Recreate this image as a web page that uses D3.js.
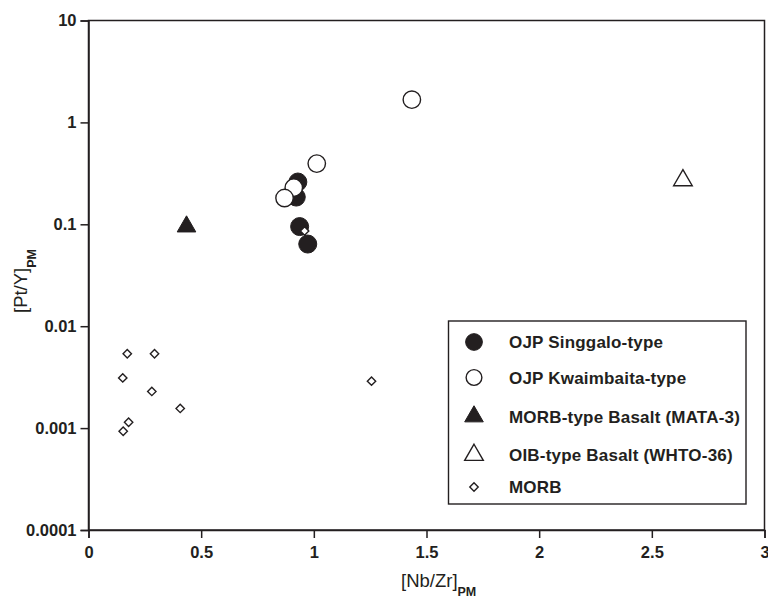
<!DOCTYPE html>
<html><head><meta charset="utf-8">
<script src="https://cdn.jsdelivr.net/npm/d3@7"></script>
<style>body{margin:0;background:#fff}</style>
</head><body>
<svg id="chart" width="768" height="609"></svg>
<script>
// ---- data ----
const singgaloX = [0.929, 0.922, 0.937, 0.973];
const singgaloY = [0.26, 0.185, 0.095, 0.064];
const kwaimbaitaX = [1.013, 0.911, 0.870, 1.435];
const kwaimbaitaY = [0.394, 0.229, 0.181, 1.67];
const mataX = [0.435];
const mataY = [0.095];
const whtoX = [2.638];
const whtoY = [0.27];
const morbX = [0.172, 0.293, 0.152, 0.281, 0.407, 0.178, 0.154, 1.256, 0.959];
const morbY = [0.00536, 0.00536, 0.00311, 0.00229, 0.00156, 0.00114, 0.00093, 0.00289, 0.086];
const xTicks = [0, 0.5, 1, 1.5, 2, 2.5, 3];
const xTickLabels = ["0", "0.5", "1", "1.5", "2", "2.5", "3"];
const yTicks = [0.0001, 0.001, 0.01, 0.1, 1, 10];
const yTickLabels = ["0.0001", "0.001", "0.01", "0.1", "1", "10"];
const legendLabels = ["OJP Singgalo-type", "OJP Kwaimbaita-type", "MORB-type Basalt (MATA-3)", "OIB-type Basalt (WHTO-36)", "MORB"];

// ---- layout ----
const ink = "#231f20";
const font = "'Liberation Sans', Arial, Helvetica, sans-serif";
const L = 88.5, R = 764.5, T = 20.5, B = 530;
const svg = d3.select("#chart");
const x = d3.scaleLinear().domain([0, 3]).range([L, R]);
const y = d3.scaleLog().domain([0.0001, 10]).range([B, T]);

// frame
svg.append("rect").attr("x", L).attr("y", T).attr("width", R - L).attr("height", B - T)
  .attr("fill", "none").attr("stroke", ink).attr("stroke-width", 1.5);

const xAxis = svg.append("g").attr("transform", `translate(0,${B})`)
  .call(d3.axisBottom(x).tickValues(xTicks).tickFormat((d, i) => xTickLabels[i]).tickSize(8).tickPadding(8));
const yAxis = svg.append("g").attr("transform", `translate(${L},0)`)
  .call(d3.axisLeft(y).tickValues(yTicks).tickFormat((d, i) => yTickLabels[i]).tickSize(8).tickPadding(4));
[xAxis, yAxis].forEach(g => {
  g.select(".domain").attr("stroke", ink).attr("stroke-width", 1.5);
  g.selectAll(".tick line").attr("stroke", ink).attr("stroke-width", 1.5);
  g.selectAll(".tick text").attr("fill", ink).style("font-family", font)
    .style("font-size", "16.5px").style("font-weight", "bold");
});

// axis titles
const xt = svg.append("text").attr("x", 401).attr("y", 587).attr("fill", ink)
  .style("font-family", font).style("font-size", "18.5px");
xt.append("tspan").text("[Nb/Zr]");
xt.append("tspan").attr("dy", 9).style("font-size", "12.5px").style("font-weight", "bold").text("PM");

const yt = svg.append("text").attr("transform", "translate(27,313) rotate(-90)").attr("fill", ink)
  .style("font-family", font).style("font-size", "18.5px");
yt.append("tspan").text("[Pt/Y]");
yt.append("tspan").attr("dy", 9).style("font-size", "12.5px").style("font-weight", "bold").text("PM");

// symbols
const diamondPath = s => `M0,${-s}L${s},0L0,${s}L${-s},0Z`;
const plot = svg.append("g");

function drawSeries(xs, ys, gen, fill, sw) {
  plot.selectAll(null).data(xs.map((v, i) => [v, ys[i]])).enter().append("path")
    .attr("d", gen).attr("transform", d => `translate(${x(d[0])},${y(d[1])})`)
    .attr("fill", fill).attr("stroke", ink).attr("stroke-width", sw);
}
drawSeries(singgaloX, singgaloY, () => d3.symbol().type(d3.symbolCircle).size(Math.PI * 81)(), ink, 1);
drawSeries(kwaimbaitaX, kwaimbaitaY, () => d3.symbol().type(d3.symbolCircle).size(Math.PI * 76)(), "#fff", 1.4);
drawSeries(mataX, mataY, () => d3.symbol().type(d3.symbolTriangle).size(150)(), ink, 1);
drawSeries(whtoX, whtoY, () => d3.symbol().type(d3.symbolTriangle).size(150)(), "#fff", 1.4);
drawSeries(morbX, morbY, () => diamondPath(4.2), "#fff", 1.4);

// legend
const lg = svg.append("g");
lg.append("rect").attr("x", 448.5).attr("y", 321).attr("width", 297.5).attr("height", 183)
  .attr("fill", "#fff").attr("stroke", ink).attr("stroke-width", 1.4);
const rowsY = [342, 377.5, 416.5, 455, 487];
const legSyms = [
  {d: d3.symbol().type(d3.symbolCircle).size(Math.PI * 70)(), fill: ink, sw: 1},
  {d: d3.symbol().type(d3.symbolCircle).size(Math.PI * 62)(), fill: "#fff", sw: 1.4},
  {d: d3.symbol().type(d3.symbolTriangle).size(150)(), fill: ink, sw: 1},
  {d: d3.symbol().type(d3.symbolTriangle).size(150)(), fill: "#fff", sw: 1.4},
  {d: diamondPath(4.2), fill: "#fff", sw: 1.4}
];
legendLabels.forEach((lab, i) => {
  lg.append("path").attr("d", legSyms[i].d).attr("transform", `translate(474,${rowsY[i]})`)
    .attr("fill", legSyms[i].fill).attr("stroke", ink).attr("stroke-width", legSyms[i].sw);
  lg.append("text").attr("x", 509).attr("y", rowsY[i] + 6).attr("fill", ink)
    .style("font-family", font).style("font-size", "17px").style("letter-spacing", "0.2px")
    .style("font-weight", "bold").text(lab);
});
</script>
</body></html>
